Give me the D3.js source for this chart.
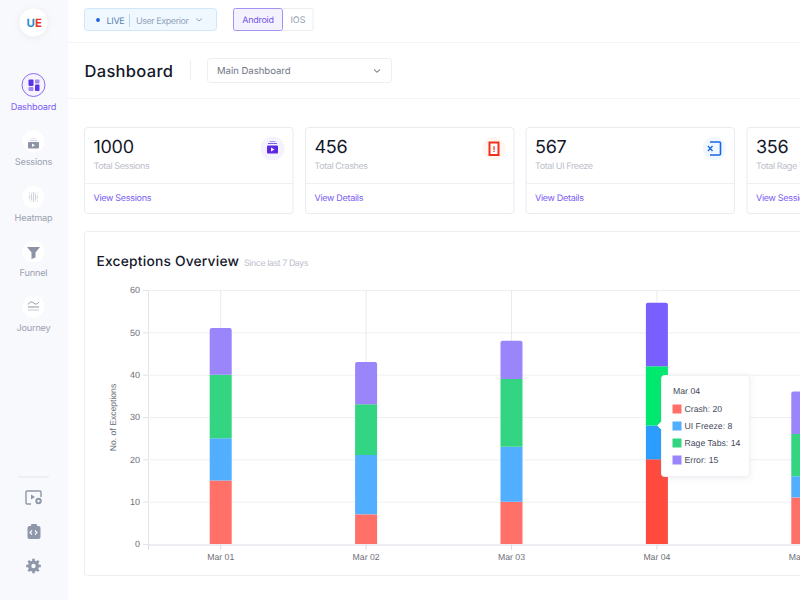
<!DOCTYPE html>
<html><head><meta charset="utf-8">
<script src="https://cdn.jsdelivr.net/npm/d3@7"></script>
<style>html,body{margin:0;padding:0;background:#fff;overflow:hidden}svg{display:block}text{text-rendering:geometricPrecision}</style>
</head><body><div id="c"></div>
<script>
const categories = ["Mar 01","Mar 02","Mar 03","Mar 04","Mar 05"];
const seriesNames = ["Crash","UI Freeze","Rage Tabs","Error"];
const crash = [15,7,10,20,11];
const uiFreeze = [10,14,13,8,5];
const rageTabs = [15,12,16,14,10];
const errorVals = [11,10,9,15,10];
const yTicks = [0,10,20,30,40,50,60];
const colors = ["#ff7068","#52aeff","#33d583","#9b85fb"];
const hotColors = ["#ff4a3d","#2a9dff","#00e96f","#7a5fff"];
const navItems = ["Dashboard","Sessions","Heatmap","Funnel","Journey"];
const cardValues = ["1000","456","567","356"];
const cardLabels = ["Total Sessions","Total Crashes","Total UI Freeze","Total Rage Tabs"];
const cardLinks = ["View Sessions","View Details","View Details","View Sessions"];

const UI = "Inter, 'Noto Sans', sans-serif";
const AX = "'Liberation Sans', Arial, sans-serif";
const svg = d3.select("#c").append("svg").attr("width",800).attr("height",600);
const T = (s,x,y,size,fill,opts={}) => svg.append("text").attr("x",x).attr("y",y).attr("font-family",opts.f||UI)
  .attr("font-size",size).attr("fill",fill).attr("font-weight",opts.w||400).attr("text-anchor",opts.a||"start")
  .attr("letter-spacing",opts.ls||null).text(s);
const R = (x,y,w,h,fill,stroke,r=0) => svg.append("rect").attr("x",x).attr("y",y).attr("width",w).attr("height",h)
  .attr("rx",r).attr("fill",fill).attr("stroke",stroke||"none");
const C = (x,y,r,fill,stroke) => svg.append("circle").attr("cx",x).attr("cy",y).attr("r",r).attr("fill",fill).attr("stroke",stroke||"none");
const L = (x1,y1,x2,y2,s,w=1) => svg.append("line").attr("x1",x1).attr("y1",y1).attr("x2",x2).attr("y2",y2).attr("stroke",s).attr("stroke-width",w);
const P = (d,fill,stroke,w) => svg.append("path").attr("d",d).attr("fill",fill||"none").attr("stroke",stroke||"none").attr("stroke-width",w||1);

const defs = svg.append("defs");
const f = defs.append("filter").attr("id","sh").attr("x","-40%").attr("y","-40%").attr("width","180%").attr("height","180%");
f.append("feDropShadow").attr("dx",0).attr("dy",1).attr("stdDeviation",3).attr("flood-color","#8a90a8").attr("flood-opacity",0.16);

// sidebar
R(0,0,68,600,"#f8f9fc");
C(33.5,22.5,14,"#fff").attr("filter","url(#sh)");
T("U",26.5,27,11.5,"#1f8fd8",{w:700});
T("E",35,27,11.5,"#f0361d",{w:700});

const navY = [85,141.5,197,251.5,306.5];
const navLabelY = [110,165,221,276,331];
navItems.forEach((n,i)=>{
  C(33.5,navY[i],i==0?11.5:11,i==0?"#f6f3ff":"#fff",i==0?"#8a6cf5":null);
  T(n,33.5,navLabelY[i],9.2,i==0?"#7b5cf5":"#9aa1b1",{a:"middle",ls:"-0.2"});
});
// nav icons
R(28.5,79.5,5,6.5,"#5b34e8",null,1);R(35,79.5,4.5,4,"#9f8bf5",null,1);
R(28.5,87,5,4,"#9f8bf5",null,1);R(35,84.5,4.5,6.5,"#5b34e8",null,1);
R(28,142,11,6.5,"#8b93a5",null,1);P("M32 143.5l3 1.7-3 1.7z","#fff");L(29.5,140.5,37.5,140.5,"#d4d7df");L(30.5,138.5,36.5,138.5,"#e4e6eb");
d3.range(-2,3).forEach(a=>d3.range(-2,3).forEach(b=>C(33.5+a*2,197+b*2,Math.abs(a)+Math.abs(b)<3?0.7:0.4,"#b4b9c6")));
P("M27 247h13l-4.5 5.5v5l-4 1.5v-6.5z","#8b93a5");
P("M28 304.5c2-3 3.5-3 5.5-1.5s3.5 1.5 5.5-1","none","#8b93a5",1);L(28,307,39,307,"#8b93a5");L(28,310,39,310,"#c6cad3");

L(18,477,49,477,"#e3e5ea");
// bottom icons
P("M31 504h-4a1 1 0 0 1-1-1v-11a1 1 0 0 1 1-1h13a1 1 0 0 1 1 1v5","none","#8f97aa",1.4);
P("M31 494.5l4 2.5-4 2.5z","#8f97aa");C(38.5,501,3.2,"#8f97aa");C(38.5,501,1.2,"#f8f9fc");
R(27.5,526,13,13,"#8f97aa",null,2);R(31,524,6,3.5,"#8f97aa",null,1);
P("M32 530.5l-2 2 2 2M35 530.5l2 2-2 2","none","#fff",1.1);
C(33.5,566,5.5,"#8f97aa");
d3.range(8).forEach(i=>{const a=i*Math.PI/4;L(33.5+4*Math.cos(a),566+4*Math.sin(a),33.5+7.3*Math.cos(a),566+7.3*Math.sin(a),"#8f97aa",2.6)});
C(33.5,566,2.2,"#f8f9fc");

// top bar
L(68,42.5,800,42.5,"#f3f4f7");
L(68,98.5,800,98.5,"#f3f4f7");
R(84.5,8.5,132,22,"#f0f8ff","#cfe6fb",3);
C(98,20,1.9,"#1a5fe0");
T("LIVE",106.5,23.5,9,"#5a7fb0",{ls:"-0.3"});
L(129.5,14,129.5,27,"#bcd5ee");
T("User Experior",136,23.5,9,"#90a3bb",{ls:"-0.45"});
P("M196 18.5l3 2.5 3-2.5","none","#90a8c2",1);
R(233.5,8.5,49,22,"#f5f2ff","#a692f5",2);
T("Android",258,23,9,"#7256e6",{a:"middle",ls:"-0.25"});
P("M283 8.5h28a2 2 0 0 1 2 2v18a2 2 0 0 1-2 2h-28","#fff","#eceef3");
T("IOS",298,23,9,"#9aa1b1",{a:"middle"});

T("Dashboard",84.5,76.5,16.5,"#14182a",{w:500,ls:"0.3"});
L(190.5,60,190.5,80,"#eceef2");
R(207.5,58.5,184,24,"#fff","#eceef3",3);
T("Main Dashboard",217,74,9.5,"#6f7585");
P("M374 69.5l3 2.8 3-2.8","none","#555b6b",1);

// cards
const cardX = [84.5,305.5,526,747];
cardValues.forEach((v,i)=>{
  const x=cardX[i];
  R(x,127.5,208.5,86,"#fff","#e9ebf0",3);
  L(x,183.5,x+208.5,183.5,"#eef0f3");
  T(v,x+9,153,18,"#14182a",{w:400,ls:"-0.3"});
  T(cardLabels[i],x+9,169,9,"#bcc0ca",{ls:"-0.4"});
  T(cardLinks[i],x+9,201,9,"#7b5cf5",{ls:"-0.3"});
});
C(272.5,148.5,12,"#f4f2fc");
R(267,145.5,11,8,"#5b28e0",null,1);P("M271 147.5l3.5 2-3.5 2z","#fff");L(268,143.5,277,143.5,"#7b5cf5");L(269.5,141.5,275.5,141.5,"#a995f5");
C(494,148.5,11.5,"#fff6ef");
R(489.5,142.5,9,12.5,"#fff","#f0301c",0).attr("stroke-width",2);
T("!",494,152,8,"#f0301c",{a:"middle",w:700});
C(714.5,148.5,11.5,"#f0f7ff");
P("M710 142h9.5a1 1 0 0 1 1 1v11a1 1 0 0 1-1 1H710","none","#1a66e6",1.6);
P("M708 146l4.5 5M712.5 146l-4.5 5","none","#1a66e6",1.3);

// chart card
R(84.5,231.5,740,344,"#fff","#eceef3",3);
T("Exceptions Overview",96.5,266,13.8,"#14182a",{w:500,ls:"0.2"});
T("Since last 7 Days",244,266,8.8,"#bcc0ca",{ls:"-0.4"});

const x = d3.scaleBand().domain(categories).range([148,875]).paddingInner(0).paddingOuter(0);
const y = d3.scaleLinear().domain([0,60]).range([544,290]);
const clip = defs.append("clipPath").attr("id","plot");
clip.append("rect").attr("x",85).attr("y",232).attr("width",715).attr("height",343);
const g = svg.append("g").attr("clip-path","url(#plot)");

const yAxis = g.append("g").attr("transform","translate(148,0)")
  .call(d3.axisLeft(y).tickValues(yTicks).tickSize(5).tickFormat(d3.format("d")));
yAxis.select(".domain").attr("stroke","#e0e3e8");
yAxis.selectAll(".tick line").attr("stroke","#e0e3e8");
yAxis.selectAll("text").attr("font-family",AX).attr("font-size",9).attr("fill","#6e7079");
g.append("g").selectAll("line").data(yTicks.filter(d=>d>0)).join("line")
  .attr("x1",148).attr("x2",800).attr("y1",d=>y(d)+.5).attr("y2",d=>y(d)+.5).attr("stroke","#eef0f3");
g.append("g").selectAll("line").data(categories).join("line")
  .attr("x1",d=>x(d)+x.bandwidth()/2).attr("x2",d=>x(d)+x.bandwidth()/2).attr("y1",290).attr("y2",544).attr("stroke","#e9ebef");

const xAxis = g.append("g").attr("transform","translate(0,544.5)")
  .call(d3.axisBottom(x).tickSize(5));
xAxis.select(".domain").attr("stroke","#d9dce2");
xAxis.selectAll(".tick line").attr("stroke","#d9dce2");
xAxis.selectAll("text").attr("font-family",AX).attr("font-size",8.7).attr("fill","#6e7079").attr("dy",7);

const rows = categories.map((c,i)=>({cat:c,Crash:crash[i],"UI Freeze":uiFreeze[i],"Rage Tabs":rageTabs[i],Error:errorVals[i]}));
const stack = d3.stack().keys(seriesNames)(rows);
const bw = 22;
stack.forEach((s,k)=>{
  g.append("g").selectAll("path").data(s).join("path").attr("d",d=>{
    const x0=x(d.data.cat)+x.bandwidth()/2-bw/2, y0=y(d[0]), y1=y(d[1]);
    if(k<3) return `M${x0},${y0}V${y1}H${x0+bw}V${y0}Z`;
    return `M${x0},${y0}V${y1+2}Q${x0},${y1} ${x0+2},${y1}H${x0+bw-2}Q${x0+bw},${y1} ${x0+bw},${y1+2}V${y0}Z`;
  }).attr("fill",d=>d.data.cat==="Mar 04"?hotColors[k]:colors[k]);
});
T("No. of Exceptions",0,0,8.6,"#6e7079",{f:AX,a:"middle"}).attr("transform","translate(115.5,417.5) rotate(-90)");

// tooltip
const ti = categories.indexOf("Mar 04");
const tt = svg.append("g").attr("transform","translate(661.5,375.5)");
tt.append("path").attr("d","M3,0H85a3,3 0 0 1 3,3V98a3,3 0 0 1-3,3H3a3,3 0 0 1-3-3V54l-4-4 4-4V3a3,3 0 0 1 3-3Z")
  .attr("fill","#fff").attr("stroke","#f0f1f4").attr("filter","url(#sh)");
tt.append("text").attr("x",11.5).attr("y",18).attr("font-family",AX).attr("font-size",8.7).attr("fill","#464c5c").text(categories[ti]);
[crash,uiFreeze,rageTabs,errorVals].forEach((arr,i)=>{
  const yy=33.5+i*17;
  tt.append("rect").attr("x",11).attr("y",yy-4.5).attr("width",9).attr("height",9).attr("fill",colors[i]);
  tt.append("text").attr("x",23).attr("y",yy+3).attr("font-family",AX).attr("font-size",8.7).attr("fill","#464c5c")
    .text(seriesNames[i]+": "+arr[ti]);
});
</script></body></html>
